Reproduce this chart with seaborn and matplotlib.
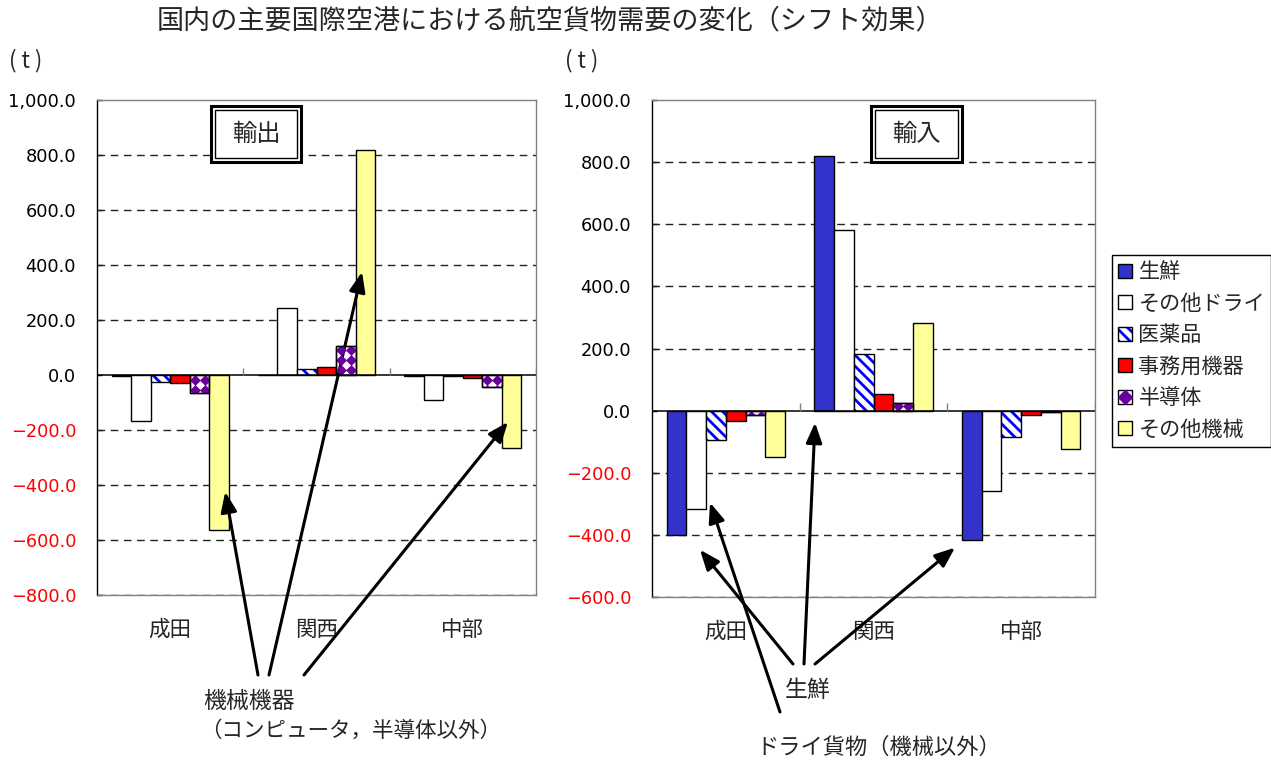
import numpy as np
import pandas as pd
import matplotlib
matplotlib.use("Agg")
import matplotlib.pyplot as plt
import seaborn as sns
from matplotlib.patches import Rectangle, Patch
from matplotlib.lines import Line2D
from matplotlib.legend_handler import HandlerTuple

# ---- data (t) -------------------------------------------------------------
airports = ["成田", "関西", "中部"]
cargo_types = ["生鮮", "その他ドライ", "医薬品", "事務用機器", "半導体", "その他機械"]

# 輸出
export_fresh = [-4, 1, -4]
export_dry = [-166, 245, -90]
export_pharma = [-27, 22, -3]
export_office = [-28, 29, -10]
export_semi = [-67, 107, -45]
export_machine = [-562, 819, -267]

# 輸入
import_fresh = [-400, 820, -416]
import_dry = [-316, 583, -258]
import_pharma = [-94, 183, -85]
import_office = [-35, 54, -15]
import_semi = [-13, 25, -5]
import_machine = [-149, 282, -124]

export_ticks = [-800, -600, -400, -200, 0, 200, 400, 600, 800, 1000]
import_ticks = [-600, -400, -200, 0, 200, 400, 600, 800, 1000]

# ---- styles ---------------------------------------------------------------
FACE = {"生鮮": "#3333CC", "その他ドライ": "#FFFFFF", "医薬品": "#FFFFFF",
        "事務用機器": "#FF0000", "半導体": "#FFFFFF", "その他機械": "#FFFF99"}
STRIPE = "#0000FF"
SEMI = "#660099"
STRIPE_HATCH = "\\\\\\"
TICK_FONT = 12.8

sns.set_theme(style="white")
plt.rcParams["font.family"] = ["Noto Sans CJK JP", "DejaVu Sans"]
plt.rcParams["hatch.linewidth"] = 2.0
plt.rcParams["ytick.labelsize"] = TICK_FONT
plt.rcParams["ytick.direction"] = "in"
plt.rcParams["ytick.major.pad"] = 15
plt.rcParams["ytick.major.size"] = 3.6
plt.rcParams["xtick.labelsize"] = 15.5
plt.rcParams["xtick.major.pad"] = 17

W, H = 1271, 760
fig = plt.figure(figsize=(W / 100, H / 100), dpi=100)
fig.patch.set_facecolor("white")


def frac(x, y):
    return x / W, 1 - y / H


def long_frame(series):
    rows = []
    for name, vals in zip(cargo_types, series):
        for ap, v in zip(airports, vals):
            rows.append({"空港": ap, "品目": name, "値": v})
    return pd.DataFrame(rows)


def fill_diamonds(ax, bar, color, step=10.0, size=5.6):
    """Cover a bar with a grid of small diamonds, clipped to the bar."""
    x0, x1 = bar.get_x(), bar.get_x() + bar.get_width()
    y0, y1 = sorted((bar.get_y(), bar.get_y() + bar.get_height()))
    (px0, py0), (px1, py1) = ax.transData.transform([(x0, y0), (x1, y1)])
    if py1 - py0 < 1.0:
        return
    gx = np.arange(px0 + step / 2, px1 + step, step)
    if bar.get_height() >= 0:
        gy = np.arange(py0 + step / 2, py1 + step, step)
    else:
        gy = np.arange(py1 - step / 2, py0 - step, -step)
    X, Y = np.meshgrid(gx, gy)
    pts = ax.transData.inverted().transform(np.column_stack([X.ravel(), Y.ravel()]))
    sc = ax.scatter(pts[:, 0], pts[:, 1], marker="D", s=size ** 2, color=color,
                    linewidths=0, zorder=bar.get_zorder() + 0.1)
    sc.set_clip_path(bar)


def outline(ax, bar):
    ax.add_patch(Rectangle((bar.get_x(), bar.get_y()), bar.get_width(), bar.get_height(),
                           facecolor="none", edgecolor="black", linewidth=1,
                           zorder=bar.get_zorder() + 0.2))


def draw_panel(rect, series, ticks, ylim, title_box):
    ax = fig.add_axes(rect)
    df = long_frame(series)
    sns.barplot(data=df, x="空港", y="値", hue="品目", order=airports,
                hue_order=cargo_types, palette=FACE, saturation=1,
                edgecolor="black", linewidth=1, width=0.8, errorbar=None,
                legend=False, ax=ax, zorder=3)
    ax.set_xlim(-0.5, len(airports) - 0.5)
    ax.set_ylim(*ylim)

    # striped and diamond-patterned bars
    for name, cont in zip(cargo_types, ax.containers):
        for bar in cont:
            if name == "医薬品":
                bar.set_edgecolor(STRIPE)
                bar.set_hatch(STRIPE_HATCH)
                bar.set_linewidth(0)
                outline(ax, bar)
            elif name == "半導体":
                fill_diamonds(ax, bar, SEMI)
                outline(ax, bar)

    # grid lines and zero line
    for t in ticks:
        if t not in (0, ylim[1]):
            ax.axhline(t, color="#222222", lw=1, dashes=(5.5, 4.0), zorder=1)
    ax.axhline(0, color="black", lw=1.1, zorder=4)
    span = ylim[1] - ylim[0]
    ax.vlines([0.5, 1.5, 2.5], 0, span * 0.015, color="#808080", lw=1, zorder=4)

    # y ticks: black for positive, red for negative values
    ax.set_yticks(ticks)
    ax.set_yticklabels([f"{t:,.1f}".replace("-", "\u2212") for t in ticks])
    ax.tick_params(axis="y", direction="in", length=3.6, width=1, color="black",
                   labelsize=TICK_FONT, labelfontfamily="DejaVu Sans", pad=15, left=True)
    for lab, t in zip(ax.get_yticklabels(), ticks):
        lab.set_color("#FF0000" if t < 0 else "black")
    ax.tick_params(axis="x", length=0, labelsize=15.5, pad=17)
    ax.set_xlabel("")
    ax.set_ylabel("")
    for side in ("top", "right", "bottom"):
        ax.spines[side].set_color("#808080")
        ax.spines[side].set_linewidth(1)
    ax.spines["left"].set_color("black")
    ax.spines["left"].set_linewidth(1)

    # double-framed panel label
    (bx0, by0, bx1, by1, text) = title_box
    fx0, fy1 = frac(bx0, by0)
    fx1, fy0 = frac(bx1, by1)
    fig.add_artist(Rectangle((fx0, fy0), fx1 - fx0, fy1 - fy0, transform=fig.transFigure,
                             facecolor="white", edgecolor="black", lw=2.2, zorder=5))
    ix, iy = 4 / W, 4 / H
    fig.add_artist(Rectangle((fx0 + ix, fy0 + iy), fx1 - fx0 - 2 * ix, fy1 - fy0 - 2 * iy,
                             transform=fig.transFigure, facecolor="white",
                             edgecolor="black", lw=1.0, zorder=5))
    fig.text((fx0 + fx1) / 2, (fy0 + fy1) / 2, text, ha="center", va="center",
             fontsize=17.5, zorder=6)
    return ax


left_rect = [97 / W, 1 - 595 / H, 439 / W, 495 / H]
right_rect = [652 / W, 1 - 597 / H, 443 / W, 497 / H]

ax1 = draw_panel(left_rect,
                 [export_fresh, export_dry, export_pharma, export_office, export_semi, export_machine],
                 export_ticks, (-800, 1000), (211, 106, 301, 162, "輸出"))
ax2 = draw_panel(right_rect,
                 [import_fresh, import_dry, import_pharma, import_office, import_semi, import_machine],
                 import_ticks, (-600, 1000), (871, 106, 962, 162, "輸入"))

# ---- titles ---------------------------------------------------------------
fig.text(*frac(550, 21), "国内の主要国際空港における航空貨物需要の変化（シフト効果）",
         ha="center", va="center", fontsize=19.5)
fig.text(*frac(26, 61), "( t )", ha="center", va="center", fontsize=16)
fig.text(*frac(582, 61), "( t )", ha="center", va="center", fontsize=16)

# ---- legend ---------------------------------------------------------------
edge = dict(facecolor="none", edgecolor="black", linewidth=1)
handles = [
    Patch(facecolor=FACE["生鮮"], edgecolor="black", linewidth=1),
    Patch(facecolor=FACE["その他ドライ"], edgecolor="black", linewidth=1),
    (Patch(facecolor="white", edgecolor=STRIPE, hatch=STRIPE_HATCH, linewidth=0), Patch(**edge)),
    Patch(facecolor=FACE["事務用機器"], edgecolor="black", linewidth=1),
    (Patch(facecolor="white", edgecolor="black", linewidth=1),
     Line2D([], [], marker="D", color=SEMI, linestyle="none", markersize=7)),
    Patch(facecolor=FACE["その他機械"], edgecolor="black", linewidth=1),
]
leg = fig.legend(handles, cargo_types, loc="upper left", bbox_to_anchor=frac(1112, 255),
                 bbox_transform=fig.transFigure, fontsize=15.2, frameon=True,
                 fancybox=False, framealpha=1, edgecolor="black", borderpad=0.3,
                 handlelength=0.65, handleheight=0.65, handletextpad=0.3,
                 labelspacing=0.45, borderaxespad=0,
                 handler_map={tuple: HandlerTuple(ndivide=1)})
leg.get_frame().set_linewidth(1)

# ---- annotations ----------------------------------------------------------
arrow = dict(arrowstyle="-|>,head_length=0.55,head_width=0.22", color="black",
             lw=2.2, mutation_scale=22, shrinkA=0, shrinkB=0)

for start, head in [((258, 675), (0.376, -425)),
                    ((269, 675), (1.311, 375)),
                    ((304, 675), (2.308, -171))]:
    ax1.annotate("", xy=head, xycoords="data", xytext=frac(*start),
                 textcoords="figure fraction", arrowprops=arrow, annotation_clip=False)

for start, head in [((780, 712), (-0.107, -296)),
                    ((793, 664), (-0.175, -448)),
                    ((804, 664), (0.604, -39)),
                    ((815, 664), (1.552, -441))]:
    ax2.annotate("", xy=head, xycoords="data", xytext=frac(*start),
                 textcoords="figure fraction", arrowprops=arrow, annotation_clip=False)

fig.text(*frac(203, 702), "機械機器", ha="left", va="center", fontsize=16.5)
fig.text(*frac(200, 731), "（コンピュータ，半導体以外）", ha="left", va="center", fontsize=15.5)
fig.text(*frac(785, 690), "生鮮", ha="left", va="center", fontsize=16.5)
fig.text(*frac(756, 747), "ドライ貨物（機械以外）", ha="left", va="center", fontsize=16)

fig.savefig("out.png", dpi=100, facecolor="white")
